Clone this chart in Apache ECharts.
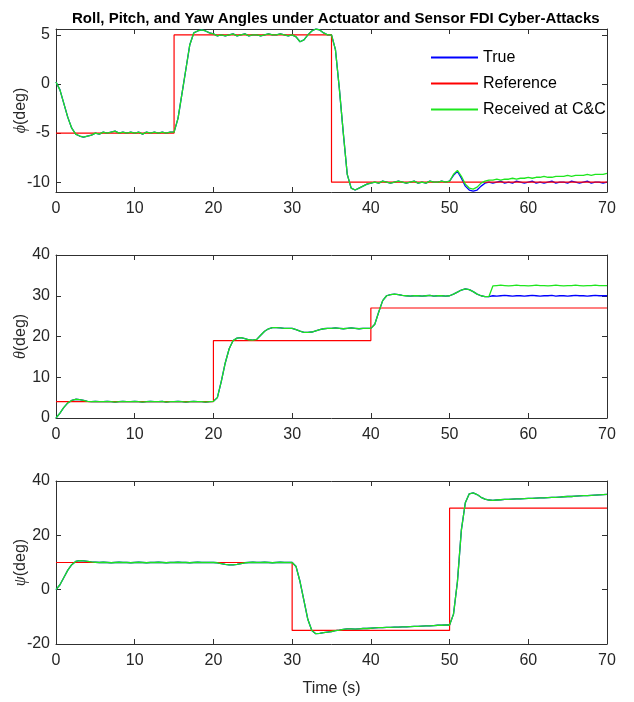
<!DOCTYPE html>
<html><head><meta charset="utf-8">
<script src="https://cdn.jsdelivr.net/npm/echarts@6/dist/echarts.min.js"></script>
<style>html,body{margin:0;padding:0;background:#fff}#c{width:634px;height:702px}</style>
</head><body><div id="c"></div><script>
// ---------- DATA ----------
const time = [
0,0.5,1,1.5,2,2.5,3,3.5,4,4.5,
5,5.5,6,6.5,7,7.5,8,8.5,9,9.5,
10,10.5,11,11.5,12,12.5,13,13.5,14,14.5,
15,15.5,16,16.5,17,17.5,18,18.5,19,19.5,
20,20.5,21,21.5,22,22.5,23,23.5,24,24.5,
25,25.5,26,26.5,27,27.5,28,28.5,29,29.5,
30,30.5,31,31.5,32,32.5,33,33.5,34,34.5,
35,35.5,36,36.5,37,37.5,38,38.5,39,39.5,
40,40.5,41,41.5,42,42.5,43,43.5,44,44.5,
45,45.5,46,46.5,47,47.5,48,48.5,49,49.5,
50,50.5,51,51.5,52,52.5,53,53.5,54,54.5,
55,55.5,56,56.5,57,57.5,58,58.5,59,59.5,
60,60.5,61,61.5,62,62.5,63,63.5,64,64.5,
65,65.5,66,66.5,67,67.5,68,68.5,69,69.5,
70];

const phiTrue = [
0.2,-0.6,-2.0,-3.4,-4.5,-5.1,-5.3,-5.4,-5.3,-5.2,
-5.0,-5.1,-4.9,-5.0,-4.9,-4.8,-5.0,-4.9,-5.0,-4.9,
-5.0,-4.9,-5.1,-4.9,-5.0,-4.9,-5.0,-4.9,-5.0,-4.9,
-4.9,-3.5,-1.0,1.5,4.0,5.2,5.4,5.5,5.4,5.2,
5.1,4.9,5.0,4.9,5.0,5.1,4.9,5.0,5.1,4.9,
5.0,5.0,4.9,5.0,5.1,5.0,5.0,5.1,5.0,4.9,
5.0,4.8,4.3,4.5,5.0,5.4,5.6,5.5,5.2,5.0,
5.0,3.5,-0.5,-5.0,-9.2,-10.6,-10.8,-10.6,-10.4,-10.2,
-10.1,-10.0,-10.1,-9.9,-10.0,-10.1,-10.0,-9.9,-10.0,-10.1,
-10.0,-9.9,-10.1,-10.0,-10.1,-9.9,-10.0,-10.0,-9.9,-10.0,
-9.9,-9.3,-8.9,-9.6,-10.4,-10.8,-10.9,-10.8,-10.4,-10.1,
-10.0,-10.1,-10.0,-9.9,-10.1,-10.0,-10.1,-9.9,-10.0,-10.1,
-10.0,-9.9,-10.1,-10.0,-10.1,-10.0,-9.9,-10.1,-10.0,-10.0,
-10.1,-9.9,-10.0,-10.1,-10.0,-9.9,-10.1,-10.0,-10.0,-10.1,
-10.0];

const phiReceived = [
0.2,-0.6,-2.0,-3.4,-4.5,-5.1,-5.3,-5.4,-5.3,-5.2,
-5.0,-5.1,-4.9,-5.0,-4.9,-4.8,-5.0,-4.9,-5.0,-4.9,
-5.0,-4.9,-5.1,-4.9,-5.0,-4.9,-5.0,-4.9,-5.0,-4.9,
-4.9,-3.5,-1.0,1.5,4.0,5.2,5.4,5.5,5.4,5.2,
5.1,4.9,5.0,4.9,5.0,5.1,4.9,5.0,5.1,4.9,
5.0,5.0,4.9,5.0,5.1,5.0,5.0,5.1,5.0,4.9,
5.0,4.8,4.3,4.5,5.0,5.4,5.6,5.5,5.2,5.0,
5.0,3.5,-0.5,-5.0,-9.2,-10.6,-10.8,-10.6,-10.4,-10.2,
-10.1,-10.0,-10.1,-9.9,-10.0,-10.1,-10.0,-9.9,-10.0,-10.1,
-10.0,-9.9,-10.1,-10.0,-10.1,-9.9,-10.0,-10.0,-9.9,-10.0,
-9.9,-9.2,-8.8,-9.4,-10.2,-10.6,-10.7,-10.5,-10.1,-9.9,
-9.8,-9.8,-9.7,-9.8,-9.7,-9.7,-9.6,-9.7,-9.6,-9.6,
-9.5,-9.6,-9.5,-9.5,-9.4,-9.5,-9.5,-9.4,-9.4,-9.4,
-9.3,-9.4,-9.3,-9.3,-9.3,-9.2,-9.3,-9.2,-9.2,-9.2,
-9.1];

const thetaTrue = [
0.0,1.2,2.6,3.7,4.3,4.6,4.5,4.3,4.1,4.0,
4.1,4.0,4.0,4.1,4.0,3.9,4.0,4.1,4.0,4.0,
4.1,4.0,3.9,4.0,4.1,4.0,4.0,4.1,3.9,4.0,
4.0,4.1,4.0,3.9,4.0,4.1,4.0,4.0,3.9,4.0,
4.1,5.0,9.0,13.5,17.0,19.0,19.6,19.7,19.5,19.2,
19.1,19.3,20.3,21.3,21.9,22.2,22.2,22.1,22.0,22.0,
22.0,21.7,21.3,21.0,21.0,21.1,21.4,21.7,21.9,22.0,
22.0,22.1,22.0,21.9,22.0,22.1,22.0,21.9,22.0,22.0,
22.0,23.0,26.0,28.8,30.0,30.3,30.4,30.3,30.1,30.0,
29.9,30.0,30.0,29.9,30.0,30.1,29.9,30.0,30.0,29.9,
30.0,30.4,30.9,31.4,31.7,31.5,31.0,30.4,30.0,29.8,
29.8,30.0,29.9,30.0,30.1,30.0,29.9,30.0,30.0,29.9,
30.0,30.1,30.0,29.9,30.0,30.0,30.1,29.9,30.0,30.0,
29.9,30.0,30.1,30.0,30.0,29.9,30.0,30.1,30.0,30.0,
30.0];

const thetaReceived = [
0.0,1.2,2.6,3.7,4.3,4.6,4.5,4.3,4.1,4.0,
4.1,4.0,4.0,4.1,4.0,3.9,4.0,4.1,4.0,4.0,
4.1,4.0,3.9,4.0,4.1,4.0,4.0,4.1,3.9,4.0,
4.0,4.1,4.0,3.9,4.0,4.1,4.0,4.0,3.9,4.0,
4.1,5.0,9.0,13.5,17.0,19.0,19.6,19.7,19.5,19.2,
19.1,19.3,20.3,21.3,21.9,22.2,22.2,22.1,22.0,22.0,
22.0,21.7,21.3,21.0,21.0,21.1,21.4,21.7,21.9,22.0,
22.0,22.1,22.0,21.9,22.0,22.1,22.0,21.9,22.0,22.0,
22.0,23.0,26.0,28.8,30.0,30.3,30.4,30.3,30.1,30.0,
29.9,30.0,30.0,29.9,30.0,30.1,29.9,30.0,30.0,29.9,
30.0,30.4,30.9,31.4,31.7,31.5,31.0,30.4,30.0,29.8,
29.8,32.4,32.5,32.6,32.5,32.4,32.5,32.6,32.5,32.5,
32.4,32.5,32.6,32.5,32.5,32.4,32.5,32.6,32.5,32.4,
32.5,32.5,32.6,32.5,32.4,32.5,32.5,32.6,32.5,32.5,
32.5];

const psiTrue = [
0.0,1.8,4.5,7.2,9.2,10.4,10.7,10.6,10.4,10.2,
10.1,10.0,10.1,10.0,9.9,10.0,10.1,10.0,10.0,9.9,
10.0,10.1,10.0,9.9,10.0,10.0,10.1,10.0,9.9,10.0,
10.0,10.1,10.0,10.0,9.9,10.0,10.1,10.0,10.0,10.0,
10.0,9.9,9.6,9.3,9.1,9.1,9.3,9.6,9.9,10.0,
10.1,10.0,10.0,10.1,10.0,9.9,10.0,10.1,10.0,10.0,
10.0,8.5,3.0,-4.0,-11.0,-15.0,-16.2,-16.1,-15.8,-15.6,
-15.4,-15.1,-14.9,-14.6,-14.4,-14.4,-14.5,-14.4,-14.3,-14.3,
-14.2,-14.1,-14.0,-14.0,-13.9,-13.9,-13.8,-13.8,-13.7,-13.7,
-13.6,-13.5,-13.5,-13.4,-13.3,-13.3,-13.2,-13.1,-13.1,-13.0,
-13.0,-9.0,3.0,22.0,32.0,35.3,35.6,35.0,34.0,33.3,
33.0,32.9,33.0,33.1,33.2,33.2,33.3,33.4,33.4,33.5,
33.6,33.6,33.7,33.8,33.8,33.9,34.0,34.0,34.1,34.2,
34.3,34.3,34.4,34.5,34.6,34.6,34.7,34.8,34.9,35.0,
35.1];

const psiReceived = [
0.0,1.8,4.5,7.2,9.2,10.4,10.7,10.6,10.4,10.2,
10.1,10.0,10.1,10.0,9.9,10.0,10.1,10.0,10.0,9.9,
10.0,10.1,10.0,9.9,10.0,10.0,10.1,10.0,9.9,10.0,
10.0,10.1,10.0,10.0,9.9,10.0,10.1,10.0,10.0,10.0,
10.0,9.9,9.6,9.3,9.1,9.1,9.3,9.6,9.9,10.0,
10.1,10.0,10.0,10.1,10.0,9.9,10.0,10.1,10.0,10.0,
10.0,8.5,3.0,-4.0,-11.0,-15.0,-16.2,-16.1,-15.8,-15.6,
-15.4,-15.1,-14.9,-14.6,-14.4,-14.4,-14.5,-14.4,-14.3,-14.3,
-14.2,-14.1,-14.0,-14.0,-13.9,-13.9,-13.8,-13.8,-13.7,-13.7,
-13.6,-13.5,-13.5,-13.4,-13.3,-13.3,-13.2,-13.1,-13.1,-13.0,
-13.0,-9.0,3.0,22.0,32.0,35.3,35.6,35.0,34.0,33.3,
33.0,32.9,33.0,33.1,33.2,33.2,33.3,33.4,33.4,33.5,
33.6,33.6,33.7,33.8,33.8,33.9,34.0,34.0,34.1,34.2,
34.3,34.3,34.4,34.5,34.6,34.6,34.7,34.8,34.9,35.0,
35.1];

// Reference step signals (value holds from each time to the next)
const phiRefTime = [0, 15, 35, 70];
const phiRef = [-5, 5, -10, -10];
const thetaRefTime = [0, 20, 40, 70];
const thetaRef = [4, 19, 27, 27];
const psiRefTime = [0, 30, 50, 70];
const psiRef = [10, -15, 30, 30];

// Axis ticks
const timeTicks = [0, 10, 20, 30, 40, 50, 60, 70];
const phiTicks = [-10, -5, 0, 5];
const thetaTicks = [0, 10, 20, 30, 40];
const psiTicks = [-20, 0, 20, 40];

const titleText = 'Roll, Pitch, and Yaw Angles under Actuator and Sensor FDI Cyber-Attacks';
const seriesNames = ['True', 'Reference', 'Received at C&C'];
const yNames = [['ϕ', '(deg)'], ['θ', '(deg)'], ['ψ', '(deg)']];
const xName = 'Time (s)';

// ---------- CHART ----------
const FONT = "'Liberation Sans Narrow', 'Arial Narrow', 'Liberation Sans', sans-serif";
const AX = '#303030';
const zip = (xs, ys) => xs.map((x, i) => [x, ys[i]]);

const panels = [
  {trueV: phiTrue, recV: phiReceived, refT: phiRefTime, refV: phiRef, ticks: phiTicks, min: -11, max: 5.6},
  {trueV: thetaTrue, recV: thetaReceived, refT: thetaRefTime, refV: thetaRef, ticks: thetaTicks, min: 0, max: 40},
  {trueV: psiTrue, recV: psiReceived, refT: psiRefTime, refV: psiRef, ticks: psiTicks, min: -20, max: 40}
];
const tops = [29, 255, 481];

const grid = [], xAxis = [], yAxis = [], series = [];
panels.forEach((p, i) => {
  grid.push({left: 56, top: tops[i], width: 551, height: 163, show: false, containLabel: false, outerBoundsMode: 'none'});
});
panels.forEach((p, i) => {
  xAxis.push({
    type: 'value', gridIndex: i, min: 0, max: 70, position: 'bottom',
    axisLine: {show: true, onZero: false, lineStyle: {color: AX, width: 1}},
    axisTick: {show: true, inside: true, length: 5, customValues: timeTicks, lineStyle: {color: AX}},
    axisLabel: {show: true, customValues: timeTicks, fontFamily: FONT, fontSize: 16, color: '#262626', margin: 9},
    splitLine: {show: false},
    name: i === 2 ? xName : '', nameLocation: 'middle', nameGap: 37, nameMoveOverlap: false,
    nameTextStyle: {fontFamily: FONT, fontSize: 16, color: '#262626'}
  });
});
panels.forEach((p, i) => {
  xAxis.push({
    type: 'value', gridIndex: i, min: 0, max: 70, position: 'top',
    axisLine: {show: true, onZero: false, lineStyle: {color: AX, width: 1}},
    axisTick: {show: true, inside: true, length: 5, customValues: timeTicks, lineStyle: {color: AX}},
    axisLabel: {show: false}, splitLine: {show: false}
  });
});
panels.forEach((p, i) => {
  yAxis.push({
    type: 'value', gridIndex: i, min: p.min, max: p.max, position: 'left',
    axisLine: {show: true, onZero: false, lineStyle: {color: AX, width: 1}},
    axisTick: {show: true, inside: true, length: 5, customValues: p.ticks, lineStyle: {color: AX}},
    axisLabel: {show: true, customValues: p.ticks, fontFamily: FONT, fontSize: 16, color: '#262626', margin: 6},
    splitLine: {show: false},
    name: '{g|' + yNames[i][0] + '}{t|' + yNames[i][1] + '}',
    nameLocation: 'middle', nameGap: 27, nameMoveOverlap: false,
    nameTextStyle: {
      rich: {
        g: {fontFamily: "'Liberation Serif', 'DejaVu Serif', serif", fontStyle: 'italic', fontSize: 16, color: '#262626'},
        t: {fontFamily: FONT, fontSize: 16, color: '#262626'}
      }
    }
  });
});
panels.forEach((p, i) => {
  yAxis.push({
    type: 'value', gridIndex: i, min: p.min, max: p.max, position: 'right',
    axisLine: {show: true, onZero: false, lineStyle: {color: AX, width: 1}},
    axisTick: {show: true, inside: true, length: 5, customValues: p.ticks, lineStyle: {color: AX}},
    axisLabel: {show: false}, splitLine: {show: false}
  });
});
const COLORS = ['#0000ff', '#ff0000', '#1ee61e'];
panels.forEach((p, i) => {
  series.push({
    name: seriesNames[0], type: 'line', xAxisIndex: i, yAxisIndex: i,
    data: zip(time, p.trueV), symbol: 'none', showSymbol: false,
    lineStyle: {color: COLORS[0], width: 1.3}, itemStyle: {color: COLORS[0]}, z: 2
  });
  series.push({
    name: seriesNames[1], type: 'line', step: 'end', xAxisIndex: i, yAxisIndex: i,
    data: zip(p.refT, p.refV), symbol: 'none', showSymbol: false,
    lineStyle: {color: COLORS[1], width: 1.2}, itemStyle: {color: COLORS[1]}, z: 3
  });
  series.push({
    name: seriesNames[2], type: 'line', xAxisIndex: i, yAxisIndex: i,
    data: zip(time, p.recV), symbol: 'none', showSymbol: false,
    lineStyle: {color: COLORS[2], width: 1.3}, itemStyle: {color: COLORS[2]}, z: 4
  });
});

const chart = echarts.init(document.getElementById('c'), null, {renderer: 'canvas'});
chart.setOption({
  animation: false,
  backgroundColor: '#ffffff',
  title: {
    text: titleText, left: 67, top: 6,
    textStyle: {fontFamily: FONT, fontSize: 15, fontWeight: 'bold', color: '#000'}
  },
  legend: {
    data: seriesNames, orient: 'vertical', left: 431, top: 49, padding: 0,
    icon: 'rect', itemWidth: 47, itemHeight: 2, itemGap: 9,
    textStyle: {fontFamily: FONT, fontSize: 16, color: '#000', lineHeight: 17}
  },
  grid, xAxis, yAxis, series
});
</script></body></html>
